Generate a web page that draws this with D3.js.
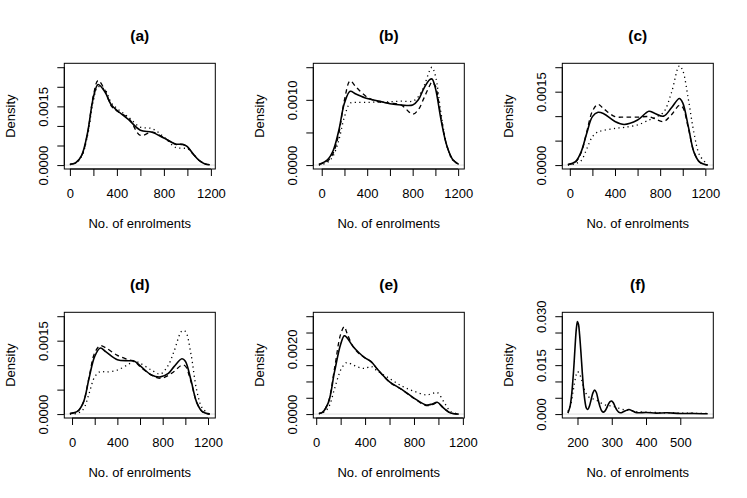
<!DOCTYPE html>
<html>
<head>
<meta charset="utf-8">
<script src="https://cdn.jsdelivr.net/npm/d3@7/dist/d3.min.js"></script>
<style>
  html, body { margin: 0; padding: 0; background: #ffffff; }
  svg { display: block; }
  text { font-family: "Liberation Sans", Arial, Helvetica, sans-serif; fill: #000; }
</style>
</head>
<body>
<svg id="chart" width="747" height="498"></svg>
<script>
// ---------------- DATA ----------------
const panelTitles = ["(a)", "(b)", "(c)", "(d)", "(e)", "(f)"];
const xAxisTitle = "No. of enrolments";
const yAxisTitle = "Density";

// x-axis ticks and labels
const xTicksWide = [0, 200, 400, 600, 800, 1000, 1200];
const xLabelsWide = ["0", "", "400", "", "800", "", "1200"];
const xTicksF = [200, 300, 400, 500];
const xLabelsF = ["200", "300", "400", "500"];

// y-axis ticks and labels per panel
const yTicksA = [0, 0.0005, 0.001, 0.0015, 0.002, 0.0025];
const yLabelsA = ["0.0000", "", "", "0.0015", "", ""];
const yTicksB = [0, 0.0005, 0.001, 0.0015];
const yLabelsB = ["0.0000", "", "0.0010", ""];
const yTicksC = [0, 0.0005, 0.001, 0.0015, 0.002];
const yLabelsC = ["0.0000", "", "", "0.0015", ""];
const yTicksD = [0, 0.0005, 0.001, 0.0015, 0.002];
const yLabelsD = ["0.0000", "", "", "0.0015", ""];
const yTicksE = [0, 0.0005, 0.001, 0.0015, 0.002, 0.0025, 0.003];
const yLabelsE = ["0.0000", "", "", "", "0.0020", "", ""];
const yTicksF = [0, 0.005, 0.01, 0.015, 0.02, 0.025, 0.03];
const yLabelsF = ["0.000", "", "", "0.015", "", "", "0.030"];

// axis limits (data range before R's 4% expansion)
const xRangeA = [0, 1190],  yMaxA = 0.0025;
const xRangeB = [-25, 1205], yMaxB = 0.0015;
const xRangeC = [-17, 1221], yMaxC = 0.002;
const xRangeD = [-19, 1215], yMaxD = 0.002;
const xRangeE = [22, 1166],  yMaxE = 0.003;
const xRangeF = [172, 580],  yMaxF = 0.03;

// ---- density curves ----
// (a)
const xA = [0, 50, 100, 150, 200, 240, 300, 350, 400, 500, 600, 700, 800, 900, 960, 1000, 1050, 1100, 1150, 1190];
const solidA  = [0.00002, 0.00006, 0.00025, 0.00082, 0.00173, 0.00206, 0.00186, 0.00155, 0.00140, 0.00116, 0.00089, 0.00084, 0.00069, 0.00054, 0.00053, 0.00047, 0.00028, 0.00012, 0.00003, 0.00001];
const dashedA = [0.00002, 0.00006, 0.00024, 0.00080, 0.00178, 0.00216, 0.00190, 0.00152, 0.00138, 0.00120, 0.00076, 0.00084, 0.00070, 0.00053, 0.00052, 0.00046, 0.00028, 0.00012, 0.00003, 0.00001];
const dottedA = [0.00001, 0.00005, 0.00022, 0.00075, 0.00165, 0.00200, 0.00192, 0.00160, 0.00145, 0.00122, 0.00097, 0.00093, 0.00072, 0.00045, 0.00043, 0.00042, 0.00028, 0.00012, 0.00003, 0.00001];
// (b)
const xB = [-25, 50, 100, 150, 200, 250, 300, 400, 500, 600, 700, 800, 850, 900, 950, 970, 1000, 1050, 1100, 1150, 1205];
const solidB  = [0.00001, 0.00008, 0.00022, 0.00053, 0.00095, 0.00113, 0.00109, 0.00102, 0.00098, 0.00094, 0.00092, 0.00092, 0.00100, 0.00118, 0.00131, 0.00132, 0.00118, 0.00069, 0.00030, 0.00009, 0.00001];
const dashedB = [0.00001, 0.00006, 0.00018, 0.00048, 0.00100, 0.00129, 0.00120, 0.00104, 0.00097, 0.00095, 0.00092, 0.00078, 0.00085, 0.00103, 0.00122, 0.00127, 0.00121, 0.00072, 0.00030, 0.00009, 0.00001];
const dottedB = [0.00000, 0.00004, 0.00014, 0.00038, 0.00074, 0.00095, 0.00096, 0.00096, 0.00097, 0.00097, 0.00098, 0.00098, 0.00105, 0.00121, 0.00145, 0.00150, 0.00137, 0.00079, 0.00030, 0.00008, 0.00001];
// (c)
const xC = [-17, 50, 100, 150, 200, 250, 300, 400, 480, 600, 700, 750, 830, 900, 970, 1000, 1050, 1100, 1150, 1221];
const solidC  = [0.00001, 0.00007, 0.00027, 0.00065, 0.00099, 0.00108, 0.00105, 0.00089, 0.00083, 0.00092, 0.00110, 0.00106, 0.00100, 0.00117, 0.00136, 0.00127, 0.00078, 0.00026, 0.00006, 0.00000];
const dashedC = [0.00001, 0.00006, 0.00025, 0.00068, 0.00110, 0.00124, 0.00115, 0.00099, 0.00098, 0.00098, 0.00099, 0.00095, 0.00089, 0.00103, 0.00122, 0.00118, 0.00075, 0.00026, 0.00006, 0.00000];
const dottedC = [0.00000, 0.00003, 0.00009, 0.00033, 0.00058, 0.00068, 0.00071, 0.00075, 0.00077, 0.00082, 0.00092, 0.00097, 0.00108, 0.00148, 0.00203, 0.00193, 0.00134, 0.00065, 0.00020, 0.00001];
// (d)
const xD = [-19, 50, 100, 150, 200, 250, 300, 400, 500, 550, 600, 700, 780, 850, 900, 970, 1000, 1050, 1100, 1150, 1215];
const solidD  = [0.00001, 0.00006, 0.00024, 0.00073, 0.00118, 0.00135, 0.00127, 0.00111, 0.00109, 0.00108, 0.00099, 0.00080, 0.00076, 0.00083, 0.00097, 0.00113, 0.00108, 0.00069, 0.00024, 0.00005, 0.00000];
const dashedD = [0.00001, 0.00006, 0.00024, 0.00075, 0.00125, 0.00140, 0.00135, 0.00120, 0.00111, 0.00108, 0.00097, 0.00080, 0.00073, 0.00079, 0.00087, 0.00100, 0.00098, 0.00066, 0.00024, 0.00005, 0.00000];
const dottedD = [0.00000, 0.00002, 0.00010, 0.00042, 0.00076, 0.00087, 0.00086, 0.00090, 0.00102, 0.00108, 0.00104, 0.00090, 0.00082, 0.00100, 0.00128, 0.00170, 0.00169, 0.00122, 0.00049, 0.00012, 0.00000];
// (e)
const xE = [22, 50, 100, 150, 200, 230, 250, 300, 350, 400, 450, 500, 600, 700, 800, 900, 950, 990, 1050, 1100, 1166];
const solidE  = [0.00002, 0.00005, 0.00036, 0.00130, 0.00214, 0.00240, 0.00235, 0.00208, 0.00188, 0.00172, 0.00161, 0.00138, 0.00099, 0.00076, 0.00049, 0.00028, 0.00031, 0.00036, 0.00016, 0.00003, 0.00000];
const dashedE = [0.00002, 0.00005, 0.00038, 0.00140, 0.00245, 0.00268, 0.00250, 0.00208, 0.00186, 0.00172, 0.00160, 0.00138, 0.00098, 0.00075, 0.00048, 0.00026, 0.00029, 0.00034, 0.00015, 0.00003, 0.00000];
const dottedE = [0.00001, 0.00003, 0.00020, 0.00078, 0.00135, 0.00152, 0.00158, 0.00151, 0.00143, 0.00140, 0.00146, 0.00132, 0.00109, 0.00086, 0.00070, 0.00059, 0.00063, 0.00066, 0.00034, 0.00008, 0.00000];
// (f)
const xFsolid = [172, 178, 183, 187, 190, 194, 197, 200, 203, 206, 210, 214, 218, 222, 226, 230, 235, 240, 245, 250, 255, 260, 265, 270, 275, 280, 285, 290, 295, 300, 305, 310, 315, 320, 325, 330, 340, 350, 360, 370, 380, 400, 430, 460, 500, 540, 580];
const solidF  = [0.0003, 0.0022, 0.0060, 0.0110, 0.0155, 0.0225, 0.0265, 0.0284, 0.0275, 0.0245, 0.0190, 0.0128, 0.0075, 0.0038, 0.0018, 0.0014, 0.0025, 0.0045, 0.0065, 0.0074, 0.0066, 0.0045, 0.0025, 0.0011, 0.0006, 0.0009, 0.0018, 0.0030, 0.0038, 0.0040, 0.0034, 0.0022, 0.0012, 0.0006, 0.0004, 0.0005, 0.0010, 0.0014, 0.0010, 0.0005, 0.0004, 0.0005, 0.0003, 0.0004, 0.0002, 0.0002, 0.0001];
const xFdotted = [172, 180, 188, 195, 200, 205, 212, 220, 230, 240, 250, 260, 275, 290, 300, 315, 330, 350, 375, 400, 450, 500, 580];
const dottedF = [0.0008, 0.0028, 0.0075, 0.0115, 0.0130, 0.0125, 0.0105, 0.0075, 0.0055, 0.0048, 0.0045, 0.0040, 0.0030, 0.0026, 0.0025, 0.0020, 0.0015, 0.0011, 0.0007, 0.0006, 0.0004, 0.0003, 0.0002];

// ---------------- BUILD PANELS ----------------
const panels = [
  { title: panelTitles[0], xr: xRangeA, ymax: yMaxA, xt: xTicksWide, xl: xLabelsWide, yt: yTicksA, yl: yLabelsA,
    series: [{x: xA, y: solidA, lty: "solid"}, {x: xA, y: dashedA, lty: "dashed"}, {x: xA, y: dottedA, lty: "dotted"}] },
  { title: panelTitles[1], xr: xRangeB, ymax: yMaxB, xt: xTicksWide, xl: xLabelsWide, yt: yTicksB, yl: yLabelsB,
    series: [{x: xB, y: solidB, lty: "solid"}, {x: xB, y: dashedB, lty: "dashed"}, {x: xB, y: dottedB, lty: "dotted"}] },
  { title: panelTitles[2], xr: xRangeC, ymax: yMaxC, xt: xTicksWide, xl: xLabelsWide, yt: yTicksC, yl: yLabelsC,
    series: [{x: xC, y: solidC, lty: "solid"}, {x: xC, y: dashedC, lty: "dashed"}, {x: xC, y: dottedC, lty: "dotted"}] },
  { title: panelTitles[3], xr: xRangeD, ymax: yMaxD, xt: xTicksWide, xl: xLabelsWide, yt: yTicksD, yl: yLabelsD,
    series: [{x: xD, y: solidD, lty: "solid"}, {x: xD, y: dashedD, lty: "dashed"}, {x: xD, y: dottedD, lty: "dotted"}] },
  { title: panelTitles[4], xr: xRangeE, ymax: yMaxE, xt: xTicksWide, xl: xLabelsWide, yt: yTicksE, yl: yLabelsE,
    series: [{x: xE, y: solidE, lty: "solid"}, {x: xE, y: dashedE, lty: "dashed"}, {x: xE, y: dottedE, lty: "dotted"}] },
  { title: panelTitles[5], xr: xRangeF, ymax: yMaxF, xt: xTicksF, xl: xLabelsF, yt: yTicksF, yl: yLabelsF,
    series: [{x: xFsolid, y: solidF, lty: "solid"}, {x: xFdotted, y: dottedF, lty: "dotted"}] }
];

const svg = d3.select("#chart");
svg.append("rect").attr("width", 747).attr("height", 498).attr("fill", "#fff");

const boxL0 = 64.3, boxW = 151, boxT0 = 63.3, boxH = 105.7, step = 249;
const tickLen = 7;
const styles = {
  solid:  { w: 1.6, dash: null },
  dashed: { w: 1.3, dash: "4.5,3.5" },
  dotted: { w: 1.3, dash: "1.2,3.4" }
};

panels.forEach((p, i) => {
  const col = i % 3, row = Math.floor(i / 3);
  const L = boxL0 + col * step, T = boxT0 + row * step;
  const R = L + boxW, B = T + boxH;

  const xPad = 0.04 * (p.xr[1] - p.xr[0]);
  const yPad = 0.04 * p.ymax;
  const x = d3.scaleLinear().domain([p.xr[0] - xPad, p.xr[1] + xPad]).range([L, R]);
  const y = d3.scaleLinear().domain([-yPad, p.ymax + yPad]).range([B, T]);

  const g = svg.append("g");
  const clipId = "clip" + i;
  svg.append("clipPath").attr("id", clipId)
    .append("rect").attr("x", L).attr("y", T).attr("width", boxW).attr("height", boxH);

  // zero line
  g.append("line").attr("x1", L).attr("x2", R).attr("y1", y(0)).attr("y2", y(0))
    .attr("stroke", "#c8c8c8").attr("stroke-width", 0.6);

  // curves
  const line = d3.line().x(d => x(d[0])).y(d => y(Math.max(0, d[1]))).curve(d3.curveCatmullRom.alpha(0.5));
  p.series.forEach(s => {
    const pts = s.x.map((v, k) => [v, s.y[k]]);
    const st = styles[s.lty];
    g.append("path").attr("d", line(pts)).attr("fill", "none")
      .attr("stroke", "#000").attr("stroke-width", st.w)
      .attr("stroke-dasharray", st.dash)
      .attr("stroke-linejoin", "round")
      .attr("clip-path", "url(#" + clipId + ")");
  });

  // box
  g.append("rect").attr("x", L).attr("y", T).attr("width", boxW).attr("height", boxH)
    .attr("fill", "none").attr("stroke", "#000").attr("stroke-width", 1);

  // x axis
  const xAxis = d3.axisBottom(x).tickValues(p.xt).tickSize(tickLen).tickPadding(10)
    .tickFormat((d, k) => p.xl[k]);
  const gx = g.append("g").attr("transform", `translate(0,${B})`).call(xAxis);
  gx.select(".domain").attr("d", `M${x(p.xt[0])},0H${x(p.xt[p.xt.length - 1])}`).attr("stroke", "#000");
  gx.selectAll(".tick line").attr("stroke", "#000");
  gx.selectAll(".tick text").attr("font-size", 13).attr("font-family", "Liberation Sans, Arial, sans-serif")
    .attr("y", null).attr("dy", null).attr("dominant-baseline", "central")
    .attr("transform", "translate(0,24)");

  // y axis
  const yAxis = d3.axisLeft(y).tickValues(p.yt).tickSize(tickLen).tickFormat((d, k) => p.yl[k]);
  const gy = g.append("g").attr("transform", `translate(${L},0)`).call(yAxis);
  gy.select(".domain").attr("d", `M0,${y(p.yt[0])}V${y(p.yt[p.yt.length - 1])}`).attr("stroke", "#000");
  gy.selectAll(".tick line").attr("stroke", "#000");
  gy.selectAll(".tick text").attr("font-size", 13).attr("font-family", "Liberation Sans, Arial, sans-serif")
    .attr("x", null).attr("dy", null).attr("text-anchor", "middle").attr("dominant-baseline", "central")
    .attr("transform", "translate(-21,0) rotate(-90)");

  // titles
  g.append("text").attr("x", (L + R) / 2).attr("y", T - 28).attr("text-anchor", "middle")
    .attr("dominant-baseline", "central").attr("font-size", 15.5).attr("font-weight", "bold").text(p.title);
  g.append("text").attr("x", (L + R) / 2).attr("y", B + 54).attr("text-anchor", "middle")
    .attr("dominant-baseline", "central").attr("font-size", 13).text(xAxisTitle);
  g.append("text").attr("transform", `translate(${L - 54},${(T + B) / 2}) rotate(-90)`)
    .attr("text-anchor", "middle").attr("dominant-baseline", "central").attr("font-size", 13).text(yAxisTitle);
});
</script>
</body>
</html>
